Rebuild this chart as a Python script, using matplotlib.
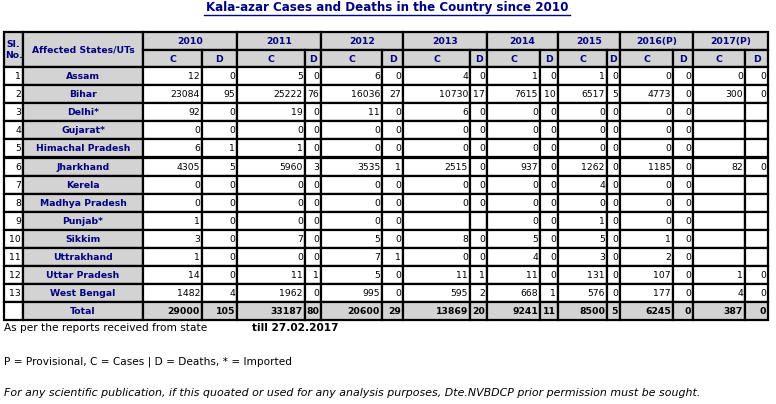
"""
Kala-azar cases and deaths by state since 2010, drawn as a table.
Produces: out.png
"""

import matplotlib
matplotlib.use('Agg')
import matplotlib.pyplot as plt
import matplotlib.patches as mpatches

NAVY = '#000080'
GREY = '#d3d3d3'

YEARS = ["2010", "2011", "2012", "2013", "2014", "2015", "2016(P)", "2017(P)"]

# (state, [C, D] per year); None = blank cell
ROWS = [
    ("Assam",            [12, 0, 5, 0, 6, 0, 4, 0, 1, 0, 1, 0, 0, 0, 0, 0]),
    ("Bihar",            [23084, 95, 25222, 76, 16036, 27, 10730, 17, 7615, 10, 6517, 5, 4773, 0, 300, 0]),
    ("Delhi*",           [92, 0, 19, 0, 11, 0, 6, 0, 0, 0, 0, 0, 0, 0, None, None]),
    ("Gujarat*",         [0, 0, 0, 0, 0, 0, 0, 0, 0, 0, 0, 0, 0, 0, None, None]),
    ("Himachal Pradesh", [6, 1, 1, 0, 0, 0, 0, 0, 0, 0, 0, 0, 0, 0, None, None]),
    ("Jharkhand",        [4305, 5, 5960, 3, 3535, 1, 2515, 0, 937, 0, 1262, 0, 1185, 0, 82, 0]),
    ("Kerela",           [0, 0, 0, 0, 0, 0, 0, 0, 0, 0, 4, 0, 0, 0, None, None]),
    ("Madhya Pradesh",   [0, 0, 0, 0, 0, 0, 0, 0, 0, 0, 0, 0, 0, 0, None, None]),
    ("Punjab*",          [1, 0, 0, 0, 0, 0, None, None, 0, 0, 1, 0, 0, 0, None, None]),
    ("Sikkim",           [3, 0, 7, 0, 5, 0, 8, 0, 5, 0, 5, 0, 1, 0, None, None]),
    ("Uttrakhand",       [1, 0, 0, 0, 7, 1, 0, 0, 4, 0, 3, 0, 2, 0, None, None]),
    ("Uttar Pradesh",    [14, 0, 11, 1, 5, 0, 11, 1, 11, 0, 131, 0, 107, 0, 1, 0]),
    ("West Bengal",      [1482, 4, 1962, 0, 995, 0, 595, 2, 668, 1, 576, 0, 177, 0, 4, 0]),
]
TOTAL = [29000, 105, 33187, 80, 20600, 29, 13869, 20, 9241, 11, 8500, 5, 6245, 0, 387, 0]

# column edges in pixels: Sl, State, then C/D pairs
EDGES = [4, 23, 143, 202, 237, 305, 321, 382, 403, 470, 487, 540, 558,
         607, 620, 673, 693, 745, 768]
TOP, H1, H2, ROW_H = 32, 50, 67, 18.1


def cell(ax, x0, x1, y0, y1, text="", fill='white', color='black', bold=False, ha='center'):
    ax.add_patch(mpatches.Rectangle((x0, y0), x1 - x0, y1 - y0, facecolor=fill,
                                    edgecolor='black', linewidth=1.6))
    if text == "":
        return
    tx = (x0 + x1) / 2 if ha == 'center' else x1 - 2
    ax.text(tx, (y0 + y1) / 2 + 0.5, text, ha=ha, va='center', fontsize=6.7,
            color=color, fontweight='bold' if bold else 'normal')


def main():
    fig = plt.figure(figsize=(7.76, 4.04), dpi=100)
    ax = fig.add_axes([0, 0, 1, 1])
    ax.set_xlim(0, 776)
    ax.set_ylim(404, 0)
    ax.axis('off')

    ax.text(387, 8, "Kala-azar Cases and Deaths in the Country since 2010", ha='center',
            va='center', fontsize=8.6, fontweight='bold', color=NAVY)
    ax.plot([204, 570], [14.5, 14.5], color=NAVY, linewidth=1)

    # header
    cell(ax, EDGES[0], EDGES[1], TOP, H2, "Sl.\nNo.", GREY, NAVY, True)
    cell(ax, EDGES[1], EDGES[2], TOP, H2, "Affected States/UTs", GREY, NAVY, True)
    for i, yr in enumerate(YEARS):
        c0, c1, c2 = EDGES[2 + 2 * i], EDGES[3 + 2 * i], EDGES[4 + 2 * i]
        cell(ax, c0, c2, TOP, H1, yr, GREY, NAVY, True)
        cell(ax, c0, c1, H1, H2, "C", GREY, NAVY, True)
        cell(ax, c1, c2, H1, H2, "D", GREY, NAVY, True)

    # body
    for r, (state, vals) in enumerate(ROWS + [("Total", TOTAL)]):
        y0 = H2 + r * ROW_H
        y1 = y0 + ROW_H
        is_total = state == "Total"
        cell(ax, EDGES[0], EDGES[1], y0, y1, "" if is_total else str(r + 1), ha='right')
        cell(ax, EDGES[1], EDGES[2], y0, y1, state, GREY, NAVY, True)
        for j, v in enumerate(vals):
            txt = "" if v is None else str(v)
            cell(ax, EDGES[2 + j], EDGES[3 + j], y0, y1, txt,
                 GREY if is_total else 'white', 'black', is_total, ha='right')

    ax.text(4, 328, "As per the reports received from state", fontsize=7.6, va='center')
    ax.text(252, 328, "till 27.02.2017", fontsize=7.6, va='center', fontweight='bold')
    ax.text(4, 362, "P = Provisional, C = Cases | D = Deaths, * = Imported", fontsize=7.6, va='center')
    ax.text(4, 393, "For any scientific publication, if this quoated or used for any analysis purposes, "
            "Dte.NVBDCP prior permission must be sought.", fontsize=7.9, va='center', style='italic')

    plt.savefig("out.png", dpi=100, facecolor='white')
    plt.close()


if __name__ == "__main__":
    main()
